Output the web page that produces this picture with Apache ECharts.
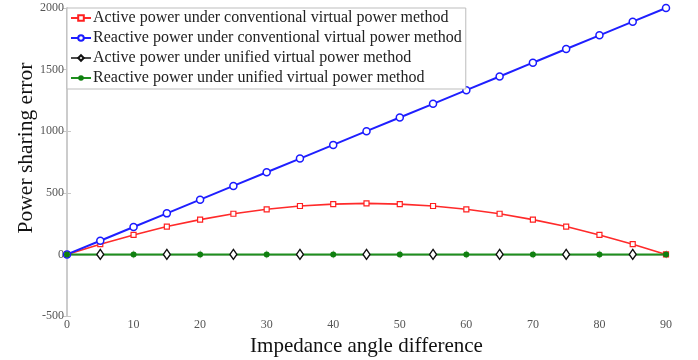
<!DOCTYPE html>
<html><head><meta charset="utf-8">
<script src="https://cdn.jsdelivr.net/npm/echarts@6/dist/echarts.min.js"></script>
<style>html,body{margin:0;padding:0;background:#fff}#c{width:698px;height:360px}</style>
</head><body><div id="c"></div>
<script>
const angles = [0,5,10,15,20,25,30,35,40,45,50,55,60,65,70,75,80,85,90];
const activeConv = [0,83,158,226,282,330,366,393,408,414,408,393,366,330,282,226,158,83,0];
const reactiveConv = [0,111,222,333,444,556,667,778,889,1000,1111,1222,1333,1444,1556,1667,1778,1889,2000];
const activeUnified = [0,0,0,0,0,0,0,0,0,0,0,0,0,0,0,0,0,0,0];
const reactiveUnified = [0,0,0,0,0,0,0,0,0,0,0,0,0,0,0,0,0,0,0];
const names = [
  'Active power under conventional virtual power method',
  'Reactive power under conventional virtual power method',
  'Active power under unified virtual power method',
  'Reactive power under unified virtual power method'
];
const xTicks = {min:0,max:90,interval:10};
const yTicks = {min:-500,max:2000,interval:500};

const pairs = a => angles.map((x,i)=>[x,a[i]]);
const serif = '"Liberation Serif","Times New Roman",serif';
const axisGray = '#c8c8c8';
const chart = echarts.init(document.getElementById('c'));
chart.setOption({
  animation:false,
  grid:{left:67,right:32,top:8,bottom:44,outerBoundsMode:'none',containLabel:false},
  legend:{
    left:67, top:8, orient:'vertical', itemGap:4, itemWidth:20, itemHeight:7,
    padding:[2,4,3,3], backgroundColor:'#fff', borderColor:'#bdbdbd', borderWidth:1,
    textStyle:{fontFamily:serif,fontSize:16,color:'#222',padding:[0,0,0,-3]},
    data:[
      {name:names[0]},
      {name:names[1]},
      {name:names[2],lineStyle:{color:'#111',width:1.5,opacity:1}},
      {name:names[3]}
    ]
  },
  xAxis:[{
    type:'value', min:xTicks.min, max:xTicks.max, interval:xTicks.interval,
    name:'Impedance angle difference', nameLocation:'middle', nameGap:20,
    nameTextStyle:{fontFamily:serif,fontSize:21,color:'#111'},
    axisLine:{show:true,lineStyle:{color:axisGray,width:1.5}},
    axisTick:{show:true,inside:true,length:4,lineStyle:{color:axisGray}},
    axisLabel:{fontFamily:serif,fontSize:12,color:'#555',margin:3},
    splitLine:{show:false}
  },{
    type:'value', position:'top', min:xTicks.min, max:xTicks.max, interval:xTicks.interval,
    axisLine:{show:true,lineStyle:{color:axisGray,width:1.5}},
    axisTick:{show:true,inside:true,length:4,lineStyle:{color:axisGray}},
    axisLabel:{show:false}, splitLine:{show:false}
  }],
  yAxis:[{
    type:'value', min:yTicks.min, max:yTicks.max, interval:yTicks.interval,
    name:'Power sharing error', nameLocation:'middle', nameGap:30, nameMoveOverlap:false,
    nameTextStyle:{fontFamily:serif,fontSize:21.5,color:'#111',padding:[0,0,0,28]},
    axisLine:{show:true,lineStyle:{color:axisGray,width:1.5}},
    axisTick:{show:true,inside:true,length:4,lineStyle:{color:axisGray}},
    axisLabel:{fontFamily:serif,fontSize:12,color:'#555',margin:3,formatter:v=>String(v)},
    splitLine:{show:false}
  },{
    type:'value', position:'right', min:yTicks.min, max:yTicks.max, interval:yTicks.interval,
    axisLine:{show:true,lineStyle:{color:axisGray,width:1.5}},
    axisTick:{show:true,inside:true,length:4,lineStyle:{color:axisGray}},
    axisLabel:{show:false}, splitLine:{show:false}
  }],
  series:[
    {name:names[0],type:'line',data:pairs(activeConv),color:'#ff2020',
     lineStyle:{width:1.6,color:'#ff2a2a'},symbol:'rect',symbolSize:5,
     itemStyle:{color:'#fff',borderColor:'#ff2020',borderWidth:1.2}},
    {name:names[1],type:'line',data:pairs(reactiveConv),color:'#1a1aff',
     lineStyle:{width:2,color:'#1f1fff'},symbol:'circle',symbolSize:7,
     itemStyle:{color:'#fff',borderColor:'#1a1aff',borderWidth:1.5}},
    {name:names[2],type:'line',z:4,
     data:angles.map((x,i)=>({value:[x,activeUnified[i]],symbol:(x%10===0)?'none':'diamond'})),
     color:'#111',lineStyle:{width:1.5,color:'#111',opacity:0},symbol:'diamond',symbolSize:[7,10],
     itemStyle:{color:'#fff',borderColor:'#111',borderWidth:1.4}},
    {name:names[3],type:'line',z:3,data:pairs(reactiveUnified),color:'#138a13',
     lineStyle:{width:2,color:'#1e8f1e'},symbol:'circle',symbolSize:6,
     itemStyle:{color:'#108010',borderColor:'#108010',borderWidth:0}}
  ]
});
</script></body></html>
